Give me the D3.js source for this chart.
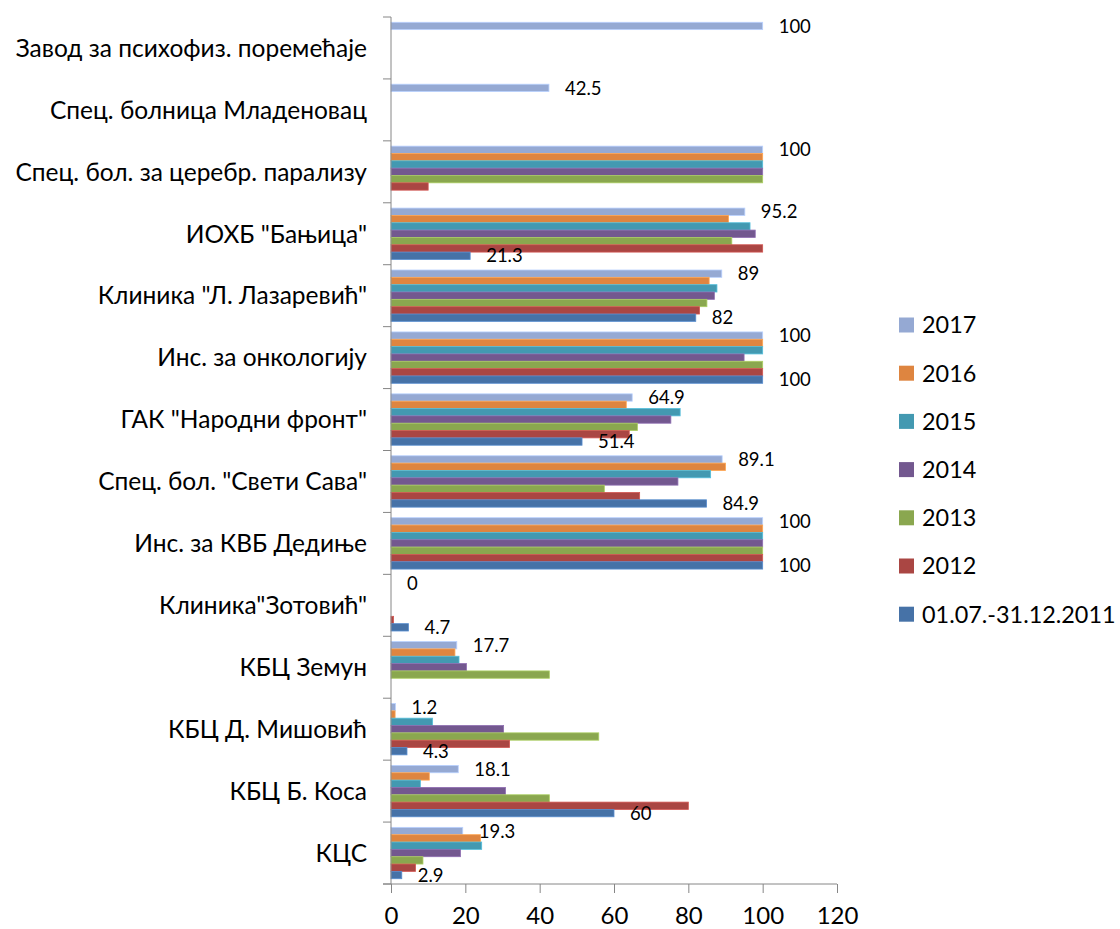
<!DOCTYPE html>
<html>
<head>
<meta charset="utf-8">
<script src="https://cdn.jsdelivr.net/npm/d3@7"></script>
<style>
  body { margin: 0; background: #fff; }
  svg { display: block; }
  text { font-family: Lato, "Open Sans", sans-serif; fill: #000; }
  .axis path, .axis line { stroke: #868686; }
</style>
</head>
<body>
<svg width="1120" height="929"></svg>
<script>
const width = 1120
const height = 929
const margin = { top: 17, bottom: 45, left: 391, right: 283 }

// categories top to bottom
const categories = [
  'Завод за психофиз. поремећаје',
  'Спец. болница Младеновац',
  'Спец. бол. за церебр. парализу',
  'ИОХБ "Бањица"',
  'Клиника "Л. Лазаревић"',
  'Инс. за онкологију',
  'ГАК "Народни фронт"',
  'Спец. бол. "Свети Сава"',
  'Инс. за КВБ Дедиње',
  'Клиника"Зотовић"',
  'КБЦ Земун',
  'КБЦ Д. Мишовић',
  'КБЦ Б. Коса',
  'КЦС'
]
const seriesNames = ['2017', '2016', '2015', '2014', '2013', '2012', '01.07.-31.12.2011']
const colors = ['#95a9d3', '#de8540', '#4399b1', '#73588f', '#8aa74f', '#aa4643', '#4672a7']

// values per series, in category order (null = no data)
const v2017 = [100, 42.5, 100, 95.2, 89, 100, 64.9, 89.1, 100, 0, 17.7, 1.2, 18.1, 19.3]
const v2016 = [null, null, 100, 90.8, 85.6, 100, 63.3, 90, 100, null, 17.2, 1.1, 10.3, 24.1]
const v2015 = [null, null, 100, 96.6, 87.7, 100, 77.8, 86, 100, null, 18.3, 11.2, 7.9, 24.4]
const v2014 = [null, null, 100, 98, 87, 95, 75.3, 77.2, 100, null, 20.3, 30.3, 30.8, 18.7]
const v2013 = [null, null, 100, 91.7, 85, 100, 66.3, 57.4, 100, null, 42.6, 55.9, 42.6, 8.6]
const v2012 = [null, null, 10, 100, 83, 100, 64.1, 66.9, 100, 0.7, null, 31.9, 80, 6.6]
const v2011 = [null, null, null, 21.3, 82, 100, 51.4, 84.9, 100, 4.7, null, 4.3, 60, 2.9]
const seriesValues = [v2017, v2016, v2015, v2014, v2013, v2012, v2011]
// series that show data labels
const labelled = ['2017', '01.07.-31.12.2011']

const xTicks = [0, 20, 40, 60, 80, 100, 120]

const x = d3.scaleLinear().domain([0, 120]).range([margin.left, width - margin.right])
const y = d3.scaleBand().domain(categories).range([margin.top, height - margin.bottom])
const yInner = d3.scaleBand().domain(seriesNames).range([0, y.bandwidth()])
  .paddingInner(0).paddingOuter(0.72)

const svg = d3.select('svg')

const rows = []
seriesNames.forEach(function (s, si) {
  categories.forEach(function (c, ci) {
    const v = seriesValues[si][ci]
    if (v !== null) rows.push({ series: s, si: si, cat: c, value: v })
  })
})

svg.append('g')
  .selectAll('rect')
  .data(rows)
  .enter()
  .append('rect')
  .attr('x', x(0))
  .attr('y', function (d) { return y(d.cat) + yInner(d.series) })
  .attr('width', function (d) { return x(d.value) - x(0) })
  .attr('height', yInner.bandwidth())
  .attr('fill', function (d) { return colors[d.si] })
  .attr('stroke', function (d) { return d3.color(colors[d.si]).brighter(0.6) })
  .attr('stroke-width', 0.8)

// data labels
svg.append('g')
  .selectAll('text')
  .data(rows.filter(function (d) { return labelled.indexOf(d.series) >= 0 }))
  .enter()
  .append('text')
  .attr('x', function (d) { return x(d.value) + 16 })
  .attr('y', function (d) { return y(d.cat) + yInner(d.series) + yInner.bandwidth() / 2 })
  .attr('dy', '0.36em')
  .style('font-size', '18.5px')
  .text(function (d) { return d.value })

// y axis
const yAxis = svg.append('g').attr('class', 'axis y')
yAxis.append('line')
  .attr('x1', x(0)).attr('x2', x(0))
  .attr('y1', margin.top).attr('y2', height - margin.bottom)
yAxis.selectAll('line.tick')
  .data(categories.concat(['end']))
  .enter()
  .append('line')
  .attr('class', 'tick')
  .attr('x1', x(0) - 8).attr('x2', x(0))
  .attr('y1', function (d, i) { return margin.top + i * y.step() })
  .attr('y2', function (d, i) { return margin.top + i * y.step() })
yAxis.selectAll('text')
  .data(categories)
  .enter()
  .append('text')
  .attr('x', x(0) - 24)
  .attr('y', function (d) { return y(d) + y.bandwidth() / 2 })
  .attr('dy', '0.36em')
  .attr('text-anchor', 'end')
  .style('font-size', '24.5px')
  .text(function (d) { return d })

// x axis
const xAxis = d3.axisBottom(x).tickValues(xTicks).tickSize(9).tickPadding(14)
svg.append('g')
  .attr('class', 'axis x')
  .attr('transform', 'translate(0,' + (height - margin.bottom) + ')')
  .call(xAxis)
  .call(function (g) {
    g.select('.domain').attr('d', 'M' + (x(0) - 8) + ',0H' + x(120))
    g.selectAll('text').style('font-size', '24px').style('font-family', 'Lato, sans-serif').attr('fill', '#000')
  })

// legend
const legend = svg.append('g').attr('class', 'legend')
  .selectAll('g')
  .data(seriesNames)
  .enter()
  .append('g')
  .attr('transform', function (d, i) { return 'translate(899,' + (325 + i * 48.2) + ')' })
legend.append('rect')
  .attr('x', 0).attr('y', -7.5)
  .attr('width', 15).attr('height', 15)
  .attr('fill', function (d, i) { return colors[i] })
legend.append('text')
  .attr('x', 23)
  .attr('dy', '0.36em')
  .style('font-size', '23.4px')
  .text(function (d) { return d })
</script>
</body>
</html>
